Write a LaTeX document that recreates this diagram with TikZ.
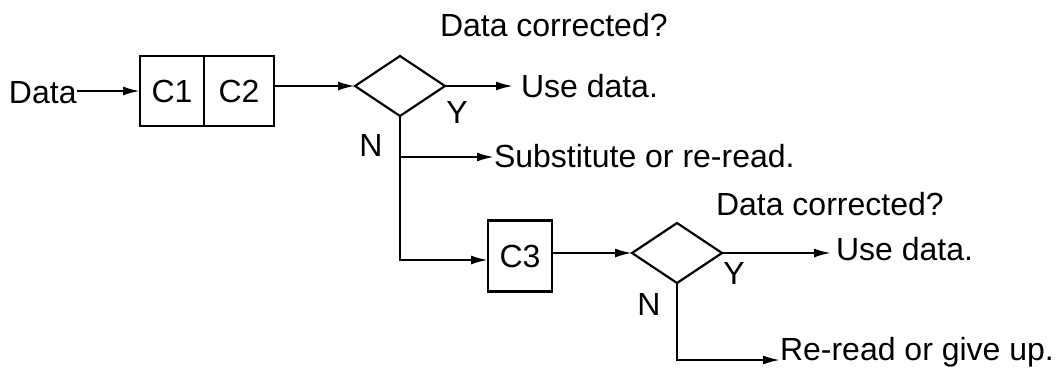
\documentclass[tikz,border=0pt]{standalone}
\usepackage{fontspec}
\setmainfont{Liberation Sans}
\usetikzlibrary{shapes.geometric,arrows.meta}
\begin{document}
\begin{tikzpicture}[x=1pt,y=-1pt,
  every node/.style={inner sep=0pt,outer sep=0pt},
  line/.style={line width=2.2pt},
  flow/.style={line, -{Latex[length=17pt,width=9pt]}},
  label/.style={font=\fontsize{32}{37}\selectfont},
  box/.style={draw,line width=2.2pt,rectangle,minimum height=70pt,font=\fontsize{32}{37}\selectfont},
  test/.style={draw,line width=2.2pt,diamond,minimum width=90pt,minimum height=60pt}]
\useasboundingbox (0,0) rectangle (1062,368);

% first check: two correction stages and a decision
\node[label,anchor=base west] (data) at (9,103) {Data};
\node[box,minimum width=64pt] (c1) at (172,91) {C1};
\node[box,minimum width=70pt,anchor=west] (c2) at (c1.east) {C2};
\node[test] (d1) at (400,86) {};
\node[label,anchor=base west] (q1) at (440,36) {Data corrected?};
\node[label,anchor=base west] (use1) at (521,97) {Use data.};
\node[label] (y1) at (457,112) {Y};
\node[label] (n1) at (371,145) {N};
\node[label,anchor=base west] (sub) at (494,167) {Substitute or re-read.};

% second check: third correction stage and a decision
\node[box,minimum width=64pt,minimum height=71pt] (c3) at (520,256) {C3};
\node[test] (d2) at (677,253) {};
\node[label,anchor=base west] (q2) at (716,215) {Data corrected?};
\node[label,anchor=base west] (use2) at (836,260) {Use data.};
\node[label] (y2) at (734,273) {Y};
\node[label] (n2) at (649,304) {N};
\node[label,anchor=base west] (give) at (780,360) {Re-read or give up.};

\coordinate (b1) at (400,157);
\coordinate (t1) at (400,260);
\coordinate (t2) at (677,360);

% connectors
\draw[flow] (data.east |- c1.west) -- (c1.west);
\draw[flow] (c2.east |- d1.west) -- (d1.west);
\draw[flow] (d1.east) -- ([xshift=-8pt]use1.west |- d1.east);
\draw[line] (d1.south) -- (b1);
\draw[flow] (b1) -- (sub.west |- b1);
\draw[flow] (b1) -- (t1) -- (c3.west |- t1);
\draw[flow] (c3.east |- d2.west) -- (d2.west);
\draw[flow] (d2.east) -- ([xshift=-5pt]use2.west |- d2.east);
\draw[flow] (d2.south) -- (t2) -- (give.west |- t2);
\end{tikzpicture}
\end{document}
